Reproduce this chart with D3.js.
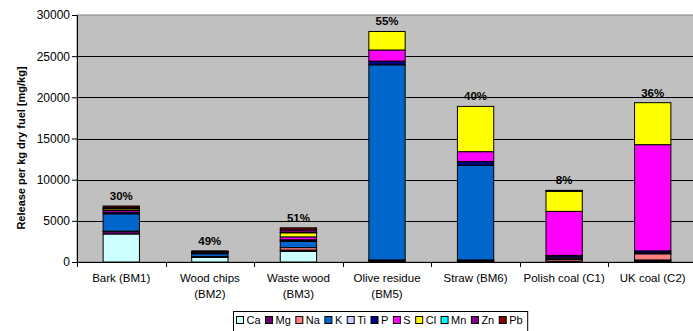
<!DOCTYPE html>
<html><head><meta charset="utf-8">
<script src="https://cdn.jsdelivr.net/npm/d3@7/dist/d3.min.js"></script>
<style>body{margin:0;background:#fff;}svg{display:block;font-family:"Liberation Sans",Arial,sans-serif;}</style>
</head><body><svg id="c" width="693" height="331"></svg>
<script>
const categories = ["Bark (BM1)", "Wood chips (BM2)", "Waste wood (BM3)", "Olive residue (BM5)", "Straw (BM6)", "Polish coal (C1)", "UK coal (C2)"];
const categoryLines = [["Bark (BM1)"], ["Wood chips", "(BM2)"], ["Waste wood", "(BM3)"], ["Olive residue", "(BM5)"], ["Straw (BM6)"], ["Polish coal (C1)"], ["UK coal (C2)"]];
const percentLabels = ["30%", "49%", "51%", "55%", "40%", "8%", "36%"];
const elements = ["Ca", "Mg", "Na", "K", "Ti", "P", "S", "Cl", "Mn", "Zn", "Pb"];
const colors = ["#CCFFFF", "#660066", "#FF8080", "#0066CC", "#CCCCFF", "#000080", "#FF00FF", "#FFFF00", "#00FFFF", "#800080", "#800000"];
const Ca = [3400, 550, 1300, 100, 100, 50, 100];
const Mg = [300, 100, 150, 100, 100, 50, 150];
const Na = [50, 0, 300, 50, 50, 200, 750];
const K  = [2100, 350, 750, 23700, 11500, 150, 100];
const Ti = [0, 0, 50, 0, 0, 150, 0];
const P  = [200, 150, 150, 450, 450, 200, 250];
const S  = [200, 50, 350, 1350, 1200, 5350, 12900];
const Cl = [200, 50, 500, 2250, 5500, 2450, 5100];
const Mn = [50, 0, 50, 0, 0, 0, 0];
const Zn = [100, 0, 300, 0, 0, 50, 0];
const Pb = [200, 100, 250, 0, 0, 50, 0];
const yTicks = [0, 5000, 10000, 15000, 20000, 25000, 30000];
const yTitle = "Release per kg dry fuel [mg/kg]";

const series = {Ca, Mg, Na, K, Ti, P, S, Cl, Mn, Zn, Pb};
const rows = categories.map((c, i) => {
  const r = {cat: c};
  elements.forEach(e => r[e] = series[e][i]);
  return r;
});

const svg = d3.select("#c");
const L = 77, R = 697, T = 15, B = 262;
const x = d3.scaleBand().domain(categories).range([L, R]).paddingInner(0.59).paddingOuter(0.295);
const y = d3.scaleLinear().domain([0, 30000]).range([B, T]);
const color = d3.scaleOrdinal().domain(elements).range(colors);

svg.append("rect").attr("x", L).attr("y", T).attr("width", R - L).attr("height", B - T)
  .attr("fill", "#C0C0C0").attr("stroke", "#808080");

svg.append("g").selectAll("line").data(yTicks.filter(d => d > 0 && d < 30000)).join("line")
  .attr("x1", L).attr("x2", R).attr("y1", d => Math.round(y(d)) + 0.5).attr("y2", d => Math.round(y(d)) + 0.5)
  .attr("stroke", "#000").attr("stroke-width", 1);

const stack = d3.stack().keys(elements)(rows);
svg.append("g").selectAll("g").data(stack).join("g")
  .attr("fill", d => color(d.key))
  .selectAll("rect").data(d => d.filter(s => s[1] - s[0] > 0)).join("rect")
  .attr("x", d => x(d.data.cat)).attr("width", x.bandwidth())
  .attr("y", d => y(d[1])).attr("height", d => y(d[0]) - y(d[1]))
  .attr("stroke", "#000").attr("stroke-width", 1);

// percentage labels
svg.append("g").selectAll("text").data(rows).join("text")
  .attr("x", d => x(d.cat) + x.bandwidth() / 2)
  .attr("y", d => y(d3.sum(elements, e => d[e])) - 6)
  .attr("text-anchor", "middle").attr("font-size", "11.5px").attr("font-weight", "bold").attr("fill", "#000")
  .text((d, i) => percentLabels[i]);

// y axis
const yAxis = d3.axisLeft(y).tickValues(yTicks).tickSize(5).tickFormat(d3.format("d"));
const ya = svg.append("g").attr("transform", `translate(${L},0)`).call(yAxis);
ya.select(".domain").attr("stroke", "#000");
ya.selectAll(".tick line").attr("stroke", "#000");
ya.selectAll(".tick text").attr("font-size", "12px").attr("fill", "#000").attr("font-family", "Liberation Sans, Arial, sans-serif").attr("x", -7);

// x axis
const step = x.step();
const xa = svg.append("g").attr("transform", `translate(0,${B})`);
xa.append("line").attr("x1", L).attr("x2", R).attr("y1", 0.5).attr("y2", 0.5).attr("stroke", "#000");
xa.selectAll("line.t").data(d3.range(categories.length + 1)).join("line").attr("class", "t")
  .attr("x1", i => Math.round(L + i * step) + 0.5).attr("x2", i => Math.round(L + i * step) + 0.5)
  .attr("y1", 0).attr("y2", 5).attr("stroke", "#000");
const xl = svg.append("g").selectAll("text").data(categories).join("text")
  .attr("x", d => x(d) + x.bandwidth() / 2).attr("y", 282)
  .attr("text-anchor", "middle").attr("font-size", "11.5px").attr("fill", "#000");
xl.each(function(d, i) {
  const t = d3.select(this);
  categoryLines[i].forEach((ln, j) => {
    t.append("tspan").attr("x", x(d) + x.bandwidth() / 2).attr("dy", j === 0 ? 0 : 16).text(ln);
  });
});

// y title
svg.append("text").attr("transform", "translate(25,148) rotate(-90)")
  .attr("text-anchor", "middle").attr("font-size", "11px").attr("font-weight", "bold").attr("fill", "#000")
  .text(yTitle);

// legend
const lg = svg.append("g");
let lx = 236.5;
const ly = 320;
elements.forEach((e, i) => {
  const g = lg.append("g");
  g.append("rect").attr("x", lx).attr("y", ly - 3.5).attr("width", 7).attr("height", 7)
    .attr("fill", colors[i]).attr("stroke", "#000").attr("stroke-width", 1);
  const t = g.append("text").attr("x", lx + 10).attr("y", ly + 4).attr("font-size", "11px").attr("fill", "#000").text(e);
  lx += 10 + t.node().getComputedTextLength() + 5;
});
lg.insert("rect", ":first-child").attr("x", 233.5).attr("y", 311.5).attr("width", lx - 233.5).attr("height", 25)
  .attr("fill", "#fff").attr("stroke", "#000");
</script></body></html>
